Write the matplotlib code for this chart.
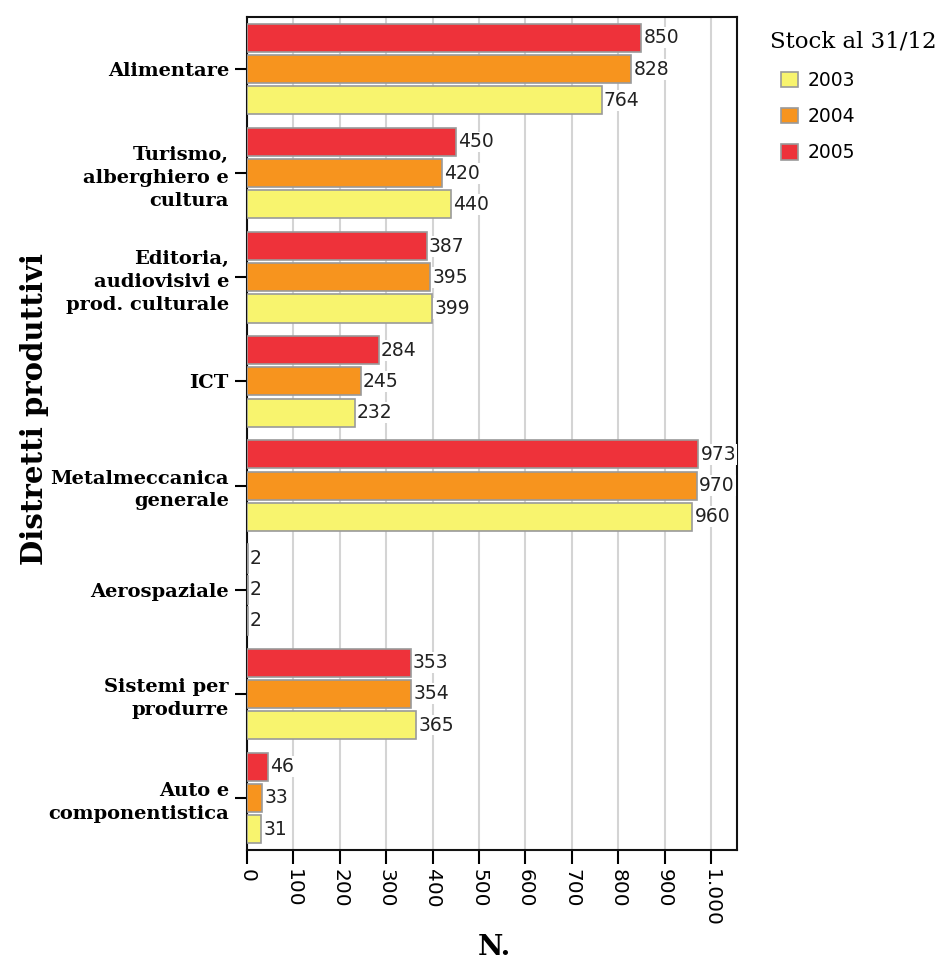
import matplotlib
matplotlib.use("Agg")
import matplotlib.pyplot as plt
import numpy as np
from matplotlib.patches import Patch

categories = ["Alimentare", "Turismo,\nalberghiero e\ncultura", "Editoria,\naudiovisivi e\nprod. culturale",
              "ICT", "Metalmeccanica\ngenerale", "Aerospaziale", "Sistemi per\nprodurre", "Auto e\ncomponentistica"]
years = ["2003", "2004", "2005"]
v2003 = [764, 440, 399, 232, 960, 2, 365, 31]
v2004 = [828, 420, 395, 245, 970, 2, 354, 33]
v2005 = [850, 450, 387, 284, 973, 2, 353, 46]
xticks = [0, 100, 200, 300, 400, 500, 600, 700, 800, 900, 1000]
xticklabels = ["0", "100", "200", "300", "400", "500", "600", "700", "800", "900", "1.000"]

colors = {"2003": "#F8F46E", "2004": "#F7941E", "2005": "#EE323A"}
serif = ["DejaVu Serif"]

fig = plt.figure(figsize=(9.44, 9.6), dpi=100)
ax = fig.add_axes([247/944, 1-850/960, (737-247)/944, (850-17)/960])

y = np.arange(len(categories))
offsets = {"2005": -0.3, "2004": 0.0, "2003": 0.3}
series = {"2003": v2003, "2004": v2004, "2005": v2005}
for yr in ["2005", "2004", "2003"]:
    vals = series[yr]
    bars = ax.barh(y + offsets[yr], vals, height=0.27, color=colors[yr],
                   edgecolor="#9a9a9a", linewidth=1.2, zorder=3)
    for b, v in zip(bars, vals):
        ax.annotate(str(v), (b.get_width(), b.get_y() + b.get_height()/2),
                    xytext=(1.5, 0), textcoords="offset points", va="center", ha="left",
                    fontsize=13.5, family="DejaVu Sans", color="#222222", zorder=5,
                    bbox=dict(boxstyle="square,pad=0.05", fc="white", ec="none"))

ax.set_ylim(7.5, -0.5)
ax.set_xlim(0, 1056)
ax.set_xticks(xticks)
ax.set_xticklabels(xticklabels, rotation=270, fontsize=14.5, family="DejaVu Sans")
ax.set_yticks(y)
ax.set_yticklabels(categories, fontsize=14, family=serif, fontweight="bold", linespacing=1.35)
ax.tick_params(axis="x", length=10, width=1.5, pad=4)
ax.tick_params(axis="y", length=9, width=1.5, pad=4)
ax.grid(axis="x", color="#d4d4d4", linewidth=1.5, zorder=0)
ax.set_axisbelow(True)
for s in ax.spines.values():
    s.set_linewidth(1.5)
    s.set_color("#111111")

ax.set_xlabel("N.", fontsize=20, family=serif, fontweight="bold")
ax.xaxis.set_label_coords(0.505, -0.101)
ax.set_ylabel("Distretti produttivi", fontsize=21, family=serif, fontweight="bold")
ax.yaxis.set_label_coords(-0.405, 0.53)

fig.text(853/944, 1-41/960, "Stock al 31/12", family=serif, fontsize=16.5, ha="center", va="center")
handles = [Patch(facecolor=colors[yr], edgecolor="#9a9a9a", linewidth=1.2, label=yr) for yr in years]
leg = fig.legend(handles=handles, loc="upper left", bbox_to_anchor=(764/944, 1-54/960),
                 frameon=False, fontsize=13.5,
                 handlelength=0.9, handleheight=0.9, labelspacing=0.92, handletextpad=0.55)
for t in leg.get_texts():
    t.set_family("DejaVu Sans")

fig.savefig("out.png", dpi=100)
